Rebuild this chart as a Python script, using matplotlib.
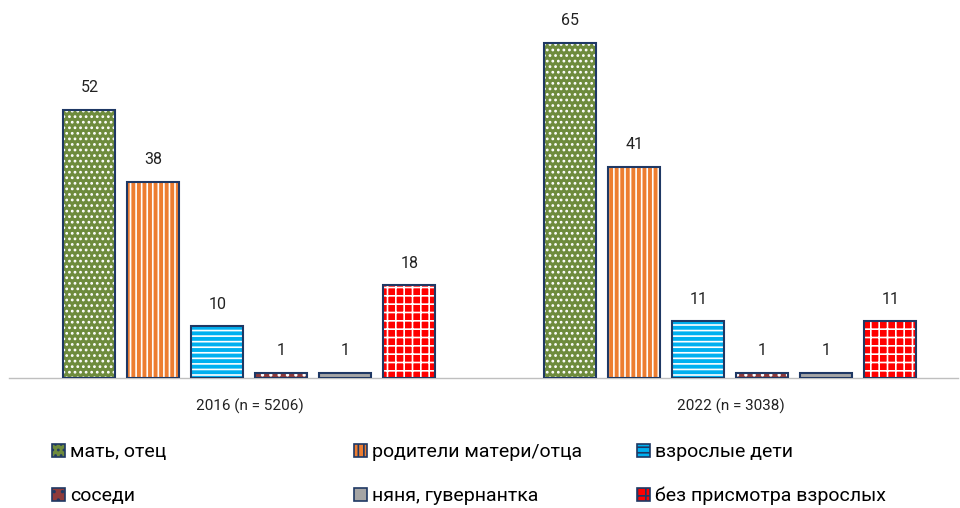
import numpy as np
import matplotlib.pyplot as plt
from matplotlib.patches import Patch

plt.rcParams['font.family'] = ['Roboto', 'DejaVu Sans']
plt.rcParams['hatch.linewidth'] = 1.2

groups = ["2016 (n = 5206)", "2022 (n = 3038)"]
series = ["мать, отец", "родители матери/отца", "взрослые дети",
          "соседи", "няня, гувернантка", "без присмотра взрослых"]
values = [
    [52, 65],
    [38, 41],
    [10, 11],
    [1, 1],
    [1, 1],
    [18, 11],
]
faces = ["#6E8B3D", "#ED7D31", "#00B0F0", "#8E3B3B", "#A5A5A5", "#FF0000"]
hatches = ["...", "|||", "---", "..", "", "++"]
edge = "#1F3864"

fig = plt.figure(figsize=(9.6, 5.08), dpi=100)
ax = fig.add_axes([9 / 960, 130 / 508, 949 / 960, 360.8 / 508])

x = np.arange(len(groups))
step = 64 / 481
width = 52 / 481
for i, (name, vals) in enumerate(zip(series, values)):
    pos = x + (i - 2.5) * step
    ax.bar(pos, vals, width, color=faces[i], edgecolor="white",
           hatch=hatches[i], linewidth=0, zorder=2)
    ax.bar(pos, vals, width, fill=False, edgecolor=edge, linewidth=1.5, zorder=3)
    for px, v in zip(pos, vals):
        ax.annotate(str(v), (px, v), xytext=(0, 16), textcoords="offset points",
                    ha="center", va="center", fontsize=11.5, color="#222222")

ax.set_xlim(-0.5, 1.473)
ax.set_ylim(0, 70)
ax.set_yticks([])
ax.set_xticks(x)
ax.set_xticklabels(groups, fontsize=11, color="#222222")
ax.tick_params(axis="x", length=0, pad=15)
for s in ["top", "right", "left"]:
    ax.spines[s].set_visible(False)
ax.spines["bottom"].set_color("#BFBFBF")
ax.spines["bottom"].set_linewidth(1)

# legend entries placed on a fixed grid, like the original
legend_pos = [(52, 452), (354, 452), (637, 452), (52, 496), (354, 496), (637, 496)]
for i, (lx, ly) in enumerate(legend_pos):
    h = Patch(facecolor=faces[i], edgecolor=edge, hatch=hatches[i], linewidth=1.2)
    fig.legend(handles=[h], labels=[series[i]], loc="center left",
               bbox_to_anchor=(lx / 960, 1 - ly / 508), frameon=False,
               fontsize=14, handlelength=0.65, handleheight=0.65,
               handletextpad=0.3, borderpad=0, borderaxespad=0)

fig.savefig("out.png", dpi=100)
